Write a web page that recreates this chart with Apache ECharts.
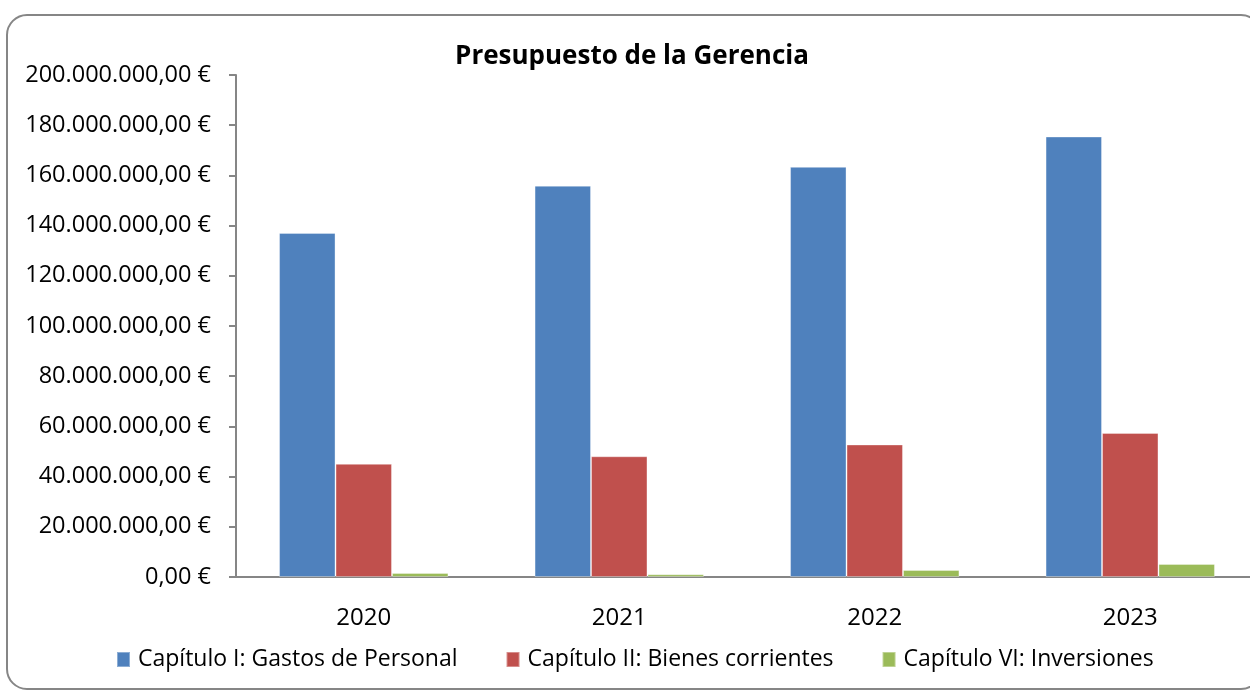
<!DOCTYPE html>
<html>
<head>
    <meta charset="utf-8">
    <title>Presupuesto de la Gerencia</title>
    <script src="https://cdn.jsdelivr.net/npm/echarts@6/dist/echarts.min.js"></script>
    <style>
        html, body { margin: 0; padding: 0; background: #fff; }
    </style>
</head>
<body>
<div id="main" style="width: 1250px;height:691px;"></div>
<script type="text/javascript">
    // datos
    const years = ['2020', '2021', '2022', '2023'];
    const personal = [137100000, 155900000, 163400000, 175500000];
    const bienes = [45100000, 48100000, 52800000, 57400000];
    const inversiones = [1600000, 1100000, 2800000, 5200000];
    const seriesNames = ['Capítulo I: Gastos de Personal', 'Capítulo II: Bienes corrientes', 'Capítulo VI: Inversiones'];

    const FONT = '"Open Sans"';
    const myChart = echarts.init(document.getElementById('main'));

    // 200000000 -> "200.000.000,00 €"
    function euro(v) {
        let s = Math.round(v).toString().replace(/\B(?=(\d{3})+(?!\d))/g, '.');
        return s + ',00 €';
    }

    const option = {
        animation: false,
        color: ['#4F81BD', '#C0504D', '#9BBB59'],
        title: {
            text: 'Presupuesto de la Gerencia',
            left: 627,
            textAlign: 'center',
            top: 39,
            textStyle: {fontFamily: FONT, fontSize: 26, fontWeight: 'bold', color: '#000'}
        },
        graphic: [{
            type: 'rect',
            shape: {x: 7, y: 15, width: 1254, height: 674, r: 20},
            style: {fill: 'none', stroke: '#868686', lineWidth: 2},
            silent: true
        }],
        legend: {
            data: seriesNames,
            left: 111,
            top: 643,
            icon: 'rect',
            itemWidth: 13,
            itemHeight: 15,
            itemGap: 48,
            textStyle: {fontFamily: FONT, fontSize: 23, color: '#000', padding: [0, 0, 0, 3]}
        },
        grid: {left: 236, top: 75, width: 1022, height: 502, containLabel: false, outerBoundsMode: 'none'},
        xAxis: {
            type: 'category',
            data: years,
            axisLine: {lineStyle: {color: '#868686', width: 2}},
            axisTick: {length: 7, lineStyle: {color: '#868686', width: 2}},
            axisLabel: {margin: 29, color: '#000', fontFamily: FONT, fontSize: 24}
        },
        yAxis: {
            type: 'value',
            min: 0,
            max: 200000000,
            interval: 20000000,
            splitLine: {show: false},
            axisLine: {show: true, lineStyle: {color: '#868686', width: 2}},
            axisTick: {show: true, length: 7, lineStyle: {color: '#868686', width: 2}},
            axisLabel: {margin: 25, color: '#000', fontFamily: FONT, fontSize: 23.5, formatter: euro}
        },
        series: [
            {name: seriesNames[0], type: 'bar', data: personal, barGap: '0%', barCategoryGap: '33.7%',
                itemStyle: {borderColor: 'rgba(255,255,255,0.35)', borderWidth: 1}},
            {name: seriesNames[1], type: 'bar', data: bienes, barGap: '0%', barCategoryGap: '33.7%',
                itemStyle: {borderColor: 'rgba(255,255,255,0.35)', borderWidth: 1}},
            {name: seriesNames[2], type: 'bar', data: inversiones, barGap: '0%', barCategoryGap: '33.7%',
                itemStyle: {borderColor: 'rgba(255,255,255,0.35)', borderWidth: 1}}
        ]
    };

    myChart.setOption(option);
</script>
</body>
</html>
